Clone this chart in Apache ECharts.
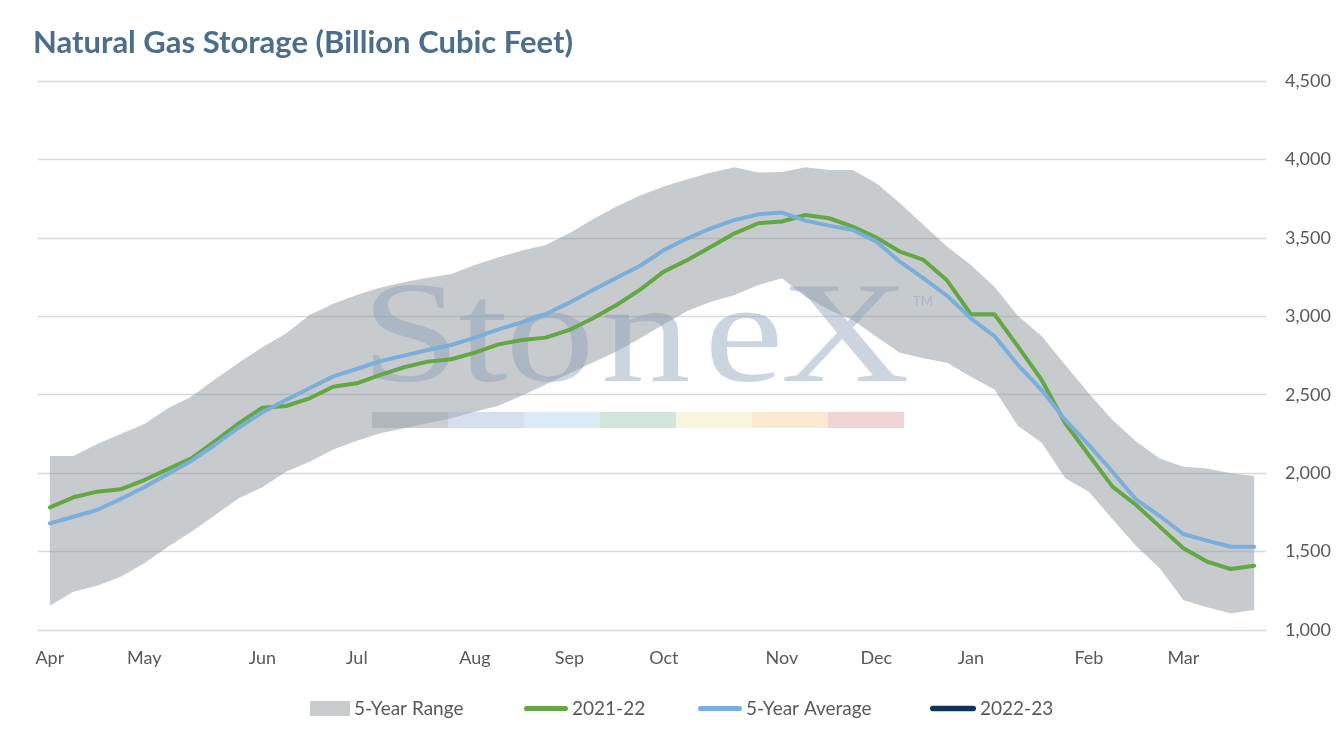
<!DOCTYPE html>
<html>
<head>
<meta charset="utf-8">
<title>Natural Gas Storage</title>
<script src="https://cdn.jsdelivr.net/npm/echarts@6/dist/echarts.min.js"></script>
<style>
html, body {margin:0; padding:0; background:#fff;}
#chart {width:1344px; height:734px;}
</style>
</head>
<body>
<div id="chart"></div>
<script>
// week ending dates (EIA weekly report), Apr 2021 - Mar 2022
var weeks = ['2021-04-02','2021-04-09','2021-04-16','2021-04-23','2021-04-30',
	'2021-05-07','2021-05-14','2021-05-21','2021-05-28',
	'2021-06-04','2021-06-11','2021-06-18','2021-06-25',
	'2021-07-02','2021-07-09','2021-07-16','2021-07-23','2021-07-30',
	'2021-08-06','2021-08-13','2021-08-20','2021-08-27',
	'2021-09-03','2021-09-10','2021-09-17','2021-09-24',
	'2021-10-01','2021-10-08','2021-10-15','2021-10-22','2021-10-29',
	'2021-11-05','2021-11-12','2021-11-19','2021-11-26',
	'2021-12-03','2021-12-10','2021-12-17','2021-12-24','2021-12-31',
	'2022-01-07','2022-01-14','2022-01-21','2022-01-28',
	'2022-02-04','2022-02-11','2022-02-18','2022-02-25',
	'2022-03-04','2022-03-11','2022-03-18','2022-03-25'];

// month label shown under each week ('' = no label)
var monthTicks = ['Apr','','','', 'May','','','','', 'Jun','','','', 'Jul','','','','',
	'Aug','','','', 'Sep','','','', 'Oct','','','','', 'Nov','','','', 'Dec','','','',
	'Jan','','','','', 'Feb','','','', 'Mar','','',''];

// 5-year min / max
var rangeLow = [1155,1244,1282,1340,1425,1531,1627,1733,1840,1910,2009,2073,2150,
	2207,2254,2286,2318,2350,2392,2430,2495,2565,2635,2705,2775,2860,2950,3034,
	3093,3136,3199,3242,3125,3040,2976,2870,2768,2732,2704,2615,2534,2300,2195,
	1967,1882,1706,1535,1393,1191,1145,1106,1128];
var rangeHigh = [2109,2109,2186,2250,2313,2413,2488,2598,2704,2802,2891,3008,3080,
	3136,3183,3217,3246,3270,3327,3376,3419,3455,3529,3619,3700,3770,3827,3874,
	3916,3950,3916,3920,3950,3933,3933,3848,3720,3582,3444,3327,3189,3002,2874,
	2689,2508,2339,2201,2094,2041,2030,1999,1982];

var storage2122 = [1782,1846,1882,1897,1956,2026,2094,2205,2317,2417,2428,2477,2551,
	2573,2626,2675,2711,2726,2768,2821,2849,2864,2913,2987,3072,3170,3285,3359,
	3444,3529,3593,3604,3646,3625,3572,3502,3412,3359,3228,3013,3013,2807,2594,
	2318,2116,1914,1797,1659,1521,1436,1389,1410];

var avg5yr = [1680,1722,1765,1835,1910,1995,2079,2181,2290,2388,2466,2541,2617,
	2664,2715,2749,2785,2817,2864,2917,2962,3013,3087,3168,3246,3322,3422,3497,
	3561,3614,3650,3661,3610,3578,3550,3476,3348,3242,3130,2987,2874,2689,2530,
	2339,2179,2009,1831,1727,1612,1570,1531,1531];

var storage2223 = [];

var yTicks = {min: 1000, max: 4500, step: 500};

var fontName = 'Lato, "Noto Sans", sans-serif';
var labelColor = '#595959';

// band thickness on top of the lower bound
var rangeSpan = rangeHigh.map(function(v, i){ return v - rangeLow[i]; });

// StoneX watermark
var wmColor = 'rgba(140,160,185,0.45)';
var wmLetters = [['S',411],['t',483],['o',550],['n',646],['e',744],['X',845]];
var wmBars = ['rgba(160,168,176,0.55)','rgba(165,185,210,0.45)','rgba(190,215,235,0.5)',
	'rgba(170,205,185,0.5)','rgba(240,235,190,0.5)','rgba(245,210,160,0.5)','rgba(230,170,175,0.5)'];

var watermark = [];
wmLetters.forEach(function(l){
	watermark.push({
		type: 'text', x: l[1], y: 343, scaleX: 1.25, z: 3, silent: true,
		style: {text: l[0], font: '143px "Liberation Serif", serif', fill: wmColor,
			textAlign: 'center', textVerticalAlign: 'middle'}
	});
});
watermark.push({
	type: 'text', x: 913, y: 302, z: 3, silent: true,
	style: {text: 'TM', font: '13px Lato', fill: wmColor, textVerticalAlign: 'middle'}
});
wmBars.forEach(function(c, i){
	watermark.push({
		type: 'rect', z: 3, silent: true,
		shape: {x: 372 + i * 76, y: 412, width: 76, height: 16},
		style: {fill: c}
	});
});

var lineIcon = 'path://M2.5,0 H40.5 A2.5,2.5 0 0 1 40.5,5 H2.5 A2.5,2.5 0 0 1 2.5,0 Z';

function legendAt(left, name, icon, w, h){
	return {
		left: left, top: 699, padding: 0, itemWidth: w, itemHeight: h, itemGap: 0,
		selectedMode: false,
		data: [{name: name, icon: icon}],
		textStyle: {fontFamily: fontName, fontSize: 19, color: labelColor, padding: [0,0,0,-1]}
	};
}

var myChart = echarts.init(document.getElementById('chart'));
var option = {
	animation: false,
	textStyle: {fontFamily: fontName},
	title: {
		text: 'Natural Gas Storage (Billion Cubic Feet)',
		left: 33, top: 27, padding: 0,
		textStyle: {fontFamily: fontName, fontWeight: 'bold', fontSize: 31, color: '#4a6e8c'}
	},
	legend: [
		legendAt(310, '5-Year Range', 'rect', 40, 15),
		legendAt(524, '2021-22', lineIcon, 44, 14),
		legendAt(698, '5-Year Average', lineIcon, 44, 14),
		legendAt(930, '2022-23', lineIcon, 46, 14)
	],
	grid: {left: 38, right: 78, top: 81, bottom: 104},
	xAxis: {
		type: 'category',
		boundaryGap: true,
		data: weeks,
		axisLine: {show: false},
		axisTick: {show: false},
		axisLabel: {
			interval: 0, margin: 19,
			fontFamily: fontName, fontSize: 18, color: labelColor,
			formatter: function(v, i){ return monthTicks[i]; }
		}
	},
	yAxis: {
		type: 'value',
		position: 'right',
		min: yTicks.min, max: yTicks.max, interval: yTicks.step,
		axisLine: {show: false},
		axisTick: {show: false},
		axisLabel: {
			margin: 19, fontFamily: fontName, fontSize: 18, color: labelColor,
			formatter: function(v){ return v.toLocaleString('en-US'); }
		},
		splitLine: {lineStyle: {color: '#d9d9d9', width: 1.3}}
	},
	graphic: watermark,
	series: [{
		name: 'rangeBase',
		type: 'line',
		stack: 'band',
		data: rangeLow,
		symbol: 'none',
		silent: true,
		lineStyle: {opacity: 0},
		z: 1
	}, {
		name: '5-Year Range',
		type: 'line',
		stack: 'band',
		data: rangeSpan,
		symbol: 'none',
		silent: true,
		itemStyle: {color: '#c9cccd'},
		lineStyle: {opacity: 0},
		areaStyle: {color: 'rgb(145,151,155)', opacity: 0.5},
		z: 1
	}, {
		name: '2021-22',
		type: 'line',
		data: storage2122,
		symbol: 'none',
		itemStyle: {color: '#63a845'},
		lineStyle: {color: '#63a845', width: 4, cap: 'round', join: 'round'},
		z: 5
	}, {
		name: '5-Year Average',
		type: 'line',
		data: avg5yr,
		symbol: 'none',
		itemStyle: {color: '#7bafdb'},
		lineStyle: {color: '#7bafdb', width: 4, cap: 'round', join: 'round'},
		z: 5
	}, {
		name: '2022-23',
		type: 'line',
		data: storage2223,
		symbol: 'none',
		itemStyle: {color: '#0e3457'},
		lineStyle: {color: '#0e3457', width: 4, cap: 'round', join: 'round'},
		z: 5
	}]
};

myChart.setOption(option);
window.addEventListener("resize", function(){
	myChart.resize();
});
</script>
</body>
</html>
